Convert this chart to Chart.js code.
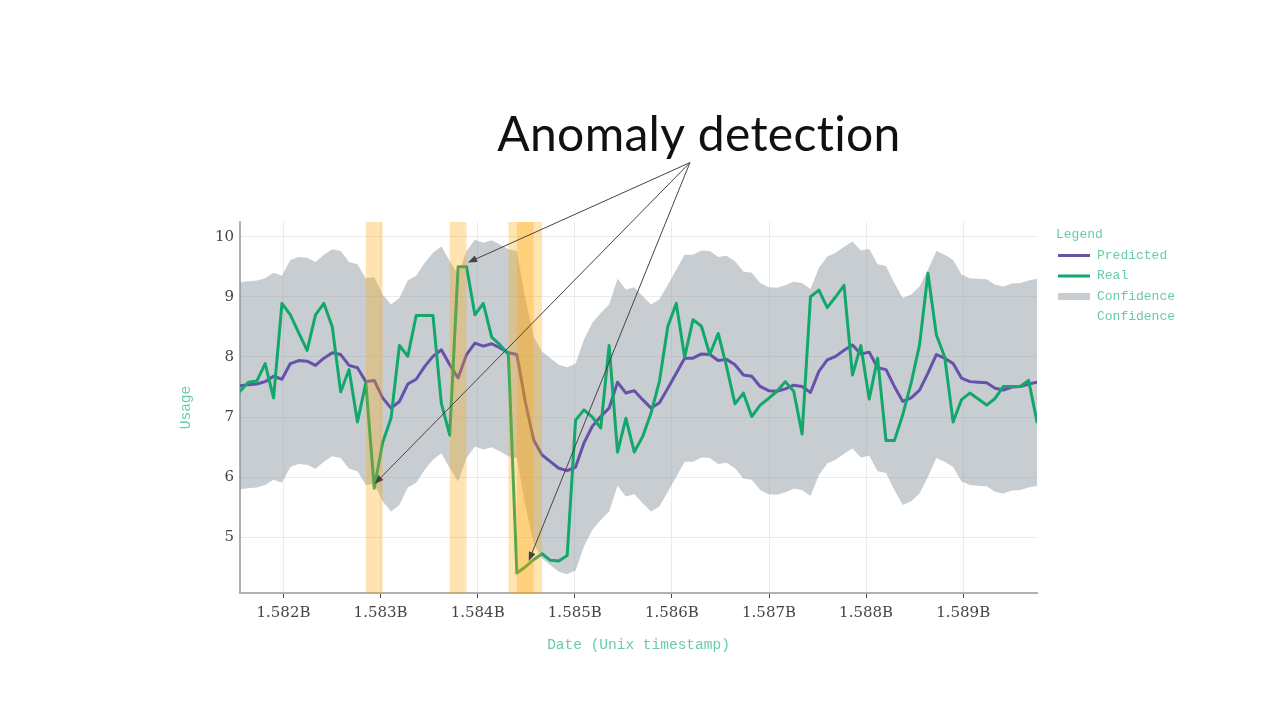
<!DOCTYPE html>
<html>
<head>
<meta charset="utf-8">
<title>Anomaly detection</title>
<script src="https://cdn.jsdelivr.net/npm/chart.js@4.4.1/dist/chart.umd.min.js"></script>
<style>
  html, body { margin: 0; padding: 0; background: #fff; }
  #chart { display: block; }
</style>
</head>
<body>
<canvas id="chart" width="1280" height="720"></canvas>
<script>
// daily timestamps (unix seconds)
const dates = [
  1581552000, 1581638400, 1581724800, 1581811200, 1581897600, 1581984000, 1582070400, 1582156800,
  1582243200, 1582329600, 1582416000, 1582502400, 1582588800, 1582675200, 1582761600, 1582848000,
  1582934400, 1583020800, 1583107200, 1583193600, 1583280000, 1583366400, 1583452800, 1583539200,
  1583625600, 1583712000, 1583798400, 1583884800, 1583971200, 1584057600, 1584144000, 1584230400,
  1584316800, 1584403200, 1584489600, 1584576000, 1584662400, 1584748800, 1584835200, 1584921600,
  1585008000, 1585094400, 1585180800, 1585267200, 1585353600, 1585440000, 1585526400, 1585612800,
  1585699200, 1585785600, 1585872000, 1585958400, 1586044800, 1586131200, 1586217600, 1586304000,
  1586390400, 1586476800, 1586563200, 1586649600, 1586736000, 1586822400, 1586908800, 1586995200,
  1587081600, 1587168000, 1587254400, 1587340800, 1587427200, 1587513600, 1587600000, 1587686400,
  1587772800, 1587859200, 1587945600, 1588032000, 1588118400, 1588204800, 1588291200, 1588377600,
  1588464000, 1588550400, 1588636800, 1588723200, 1588809600, 1588896000, 1588982400, 1589068800,
  1589155200, 1589241600, 1589328000, 1589414400, 1589500800, 1589587200, 1589673600, 1589760000
];

const predicted = [
  7.52, 7.54, 7.55, 7.59, 7.68, 7.63, 7.89, 7.94, 7.93, 7.86, 7.98, 8.07, 8.04, 7.86, 7.82, 7.59,
  7.61, 7.32, 7.15, 7.26, 7.55, 7.63, 7.84, 8.01, 8.12, 7.87, 7.65, 8.04, 8.23, 8.18, 8.22, 8.15,
  8.07, 8.04, 7.26, 6.62, 6.37, 6.26, 6.15, 6.11, 6.17, 6.57, 6.85, 7.01, 7.15, 7.58, 7.40, 7.44,
  7.29, 7.15, 7.24, 7.48, 7.73, 7.98, 7.98, 8.05, 8.04, 7.94, 7.96, 7.87, 7.70, 7.68, 7.51, 7.44,
  7.43, 7.47, 7.53, 7.51, 7.41, 7.76, 7.95, 8.01, 8.11, 8.20, 8.05, 8.08, 7.82, 7.79, 7.51, 7.26,
  7.32, 7.45, 7.73, 8.04, 7.98, 7.89, 7.65, 7.59, 7.58, 7.57, 7.48, 7.45, 7.50, 7.51, 7.55, 7.58
];

const real = [
  7.43, 7.58, 7.60, 7.89, 7.32, 8.89, 8.70, 8.40, 8.11, 8.70, 8.89, 8.50, 7.42, 7.79, 6.92, 7.57,
  5.82, 6.58, 6.98, 8.19, 8.01, 8.69, 8.69, 8.69, 7.23, 6.70, 9.50, 9.50, 8.70, 8.89, 8.33, 8.20,
  8.04, 4.41, 4.51, 4.63, 4.73, 4.62, 4.61, 4.70, 6.95, 7.12, 7.00, 6.82, 8.19, 6.42, 6.98, 6.42,
  6.68, 7.07, 7.60, 8.51, 8.89, 8.00, 8.62, 8.51, 8.04, 8.39, 7.84, 7.22, 7.40, 7.01, 7.20, 7.31,
  7.43, 7.59, 7.43, 6.72, 9.00, 9.11, 8.82, 9.00, 9.19, 7.70, 8.19, 7.30, 7.98, 6.61, 6.61, 7.04,
  7.57, 8.20, 9.39, 8.37, 8.00, 6.92, 7.29, 7.40, 7.30, 7.20, 7.31, 7.51, 7.51, 7.51, 7.61, 6.92
];

const upper = [
  9.24, 9.26, 9.27, 9.31, 9.40, 9.35, 9.61, 9.66, 9.65, 9.58, 9.70, 9.79, 9.76, 9.58, 9.54, 9.31,
  9.33, 9.04, 8.87, 8.98, 9.27, 9.35, 9.56, 9.73, 9.84, 9.59, 9.37, 9.76, 9.95, 9.90, 9.94, 9.87,
  9.79, 9.76, 8.98, 8.34, 8.09, 7.98, 7.87, 7.83, 7.89, 8.29, 8.57, 8.73, 8.87, 9.30, 9.12, 9.16,
  9.01, 8.87, 8.96, 9.20, 9.45, 9.70, 9.70, 9.77, 9.76, 9.66, 9.68, 9.59, 9.42, 9.40, 9.23, 9.16,
  9.15, 9.19, 9.25, 9.23, 9.13, 9.48, 9.67, 9.73, 9.83, 9.92, 9.77, 9.80, 9.54, 9.51, 9.23, 8.98,
  9.04, 9.17, 9.45, 9.76, 9.70, 9.61, 9.37, 9.31, 9.30, 9.29, 9.20, 9.17, 9.22, 9.23, 9.27, 9.30
];

const lower = [
  5.80, 5.82, 5.83, 5.87, 5.96, 5.91, 6.17, 6.22, 6.21, 6.14, 6.26, 6.35, 6.32, 6.14, 6.10, 5.87,
  5.89, 5.60, 5.43, 5.54, 5.83, 5.91, 6.12, 6.29, 6.40, 6.15, 5.93, 6.32, 6.51, 6.46, 6.50, 6.43,
  6.35, 6.32, 5.54, 4.90, 4.65, 4.54, 4.43, 4.39, 4.45, 4.85, 5.13, 5.29, 5.43, 5.86, 5.68, 5.72,
  5.57, 5.43, 5.52, 5.76, 6.01, 6.26, 6.26, 6.33, 6.32, 6.22, 6.24, 6.15, 5.98, 5.96, 5.79, 5.72,
  5.71, 5.75, 5.81, 5.79, 5.69, 6.04, 6.23, 6.29, 6.39, 6.48, 6.33, 6.36, 6.10, 6.07, 5.79, 5.54,
  5.60, 5.73, 6.01, 6.32, 6.26, 6.17, 5.93, 5.87, 5.86, 5.85, 5.76, 5.73, 5.78, 5.79, 5.83, 5.86
];

// days flagged as anomalies (each gets a +/- 1 day highlight)
const anomalyDates = [1582934400, 1583798400, 1584403200, 1584489600, 1584576000];

// annotation arrows: common origin under the title, one head per anomaly
const arrowOrigin = { x: 1586185600, y: 11.23 };
const arrowTargetX = [1583900000, 1582938100, 1584525800];
const arrowTargetY = [9.57, 5.89, 4.61];

const xTickValues = [1582e6, 1583e6, 1584e6, 1585e6, 1586e6, 1587e6, 1588e6, 1589e6];
const xTickLabels = ['1.582B', '1.583B', '1.584B', '1.585B', '1.586B', '1.587B', '1.588B', '1.589B'];
const yTickValues = [5, 6, 7, 8, 9, 10];
const yTickLabels = ['5', '6', '7', '8', '9', '10'];

const PURPLE = '#6652aa';
const GREEN = '#13a86b';
const BAND = 'rgba(140, 150, 160, 0.48)';
const TEAL = '#66cdaa';
const DAY = 86400;

function points(values) {
  return dates.map((d, i) => ({ x: d, y: values[i] }));
}

const anomalyBands = {
  id: 'anomalyBands',
  afterDatasetsDraw(chart) {
    const { ctx, chartArea } = chart;
    const xs = chart.scales.x;
    ctx.save();
    ctx.beginPath();
    ctx.rect(chartArea.left, chartArea.top, chartArea.width, chartArea.height);
    ctx.clip();
    ctx.fillStyle = 'rgba(255, 165, 0, 0.3)';
    anomalyDates.forEach((t) => {
      const x1 = xs.getPixelForValue(t - DAY);
      const x2 = xs.getPixelForValue(t + DAY);
      ctx.fillRect(x1, chartArea.top, x2 - x1, chartArea.height);
    });
    ctx.restore();
  }
};

function drawArrow(ctx, x1, y1, x2, y2) {
  const ang = Math.atan2(y2 - y1, x2 - x1);
  const head = 9;
  const half = 3.5;
  ctx.beginPath();
  ctx.moveTo(x1, y1);
  ctx.lineTo(x2 - Math.cos(ang) * head * 0.7, y2 - Math.sin(ang) * head * 0.7);
  ctx.stroke();
  ctx.beginPath();
  ctx.moveTo(x2, y2);
  ctx.lineTo(x2 - head * Math.cos(ang) + half * Math.sin(ang), y2 - head * Math.sin(ang) - half * Math.cos(ang));
  ctx.lineTo(x2 - head * Math.cos(ang) - half * Math.sin(ang), y2 - head * Math.sin(ang) + half * Math.cos(ang));
  ctx.closePath();
  ctx.fill();
}

const annotations = {
  id: 'annotations',
  afterDraw(chart) {
    const { ctx } = chart;
    const xs = chart.scales.x;
    const ys = chart.scales.y;
    const ox = xs.getPixelForValue(arrowOrigin.x);
    const oy = ys.getPixelForValue(arrowOrigin.y);
    ctx.save();
    ctx.strokeStyle = '#444';
    ctx.fillStyle = '#444';
    ctx.lineWidth = 1;
    arrowTargetX.forEach((tx, i) => {
      drawArrow(ctx, ox, oy, xs.getPixelForValue(tx), ys.getPixelForValue(arrowTargetY[i]));
    });

    // title (letter spacing keeps Lato from joining "ti")
    ctx.fillStyle = '#111';
    ctx.font = '400 48px Lato, "Noto Sans", sans-serif';
    ctx.letterSpacing = '0.3px';
    ctx.textRendering = 'optimizeSpeed';
    ctx.textAlign = 'center';
    ctx.textBaseline = 'alphabetic';
    ctx.fillText('Anomaly detection', 699, 151);
    ctx.restore();
  }
};

const sideLegend = {
  id: 'sideLegend',
  afterDraw(chart) {
    const { ctx, chartArea } = chart;
    const x0 = chartArea.right + 19;
    ctx.save();
    ctx.font = '13px "Liberation Mono", "DejaVu Sans Mono", monospace';
    ctx.fillStyle = TEAL;
    ctx.textAlign = 'left';
    ctx.textBaseline = 'middle';
    ctx.fillText('Legend', x0, chartArea.top + 13);
    chart.data.datasets.forEach((ds, i) => {
      const y = chartArea.top + 33.5 + i * 20.5;
      if (ds.legendWidth > 0) {
        ctx.strokeStyle = ds.legendColor;
        ctx.lineWidth = ds.legendWidth;
        ctx.beginPath();
        ctx.moveTo(x0 + 2, y);
        ctx.lineTo(x0 + 34, y);
        ctx.stroke();
      }
      ctx.fillText(ds.label, x0 + 41, y);
    });
    ctx.restore();
  }
};

const tickFont = { family: '"DejaVu Serif", serif', size: 15 };
const titleFont = { family: '"Liberation Mono", "DejaVu Sans Mono", monospace', size: 14.5 };

new Chart(document.getElementById('chart'), {
  type: 'line',
  data: {
    datasets: [
      {
        label: 'Predicted',
        data: points(predicted),
        borderColor: PURPLE,
        borderWidth: 3,
        fill: false,
        order: 1,
        legendColor: PURPLE,
        legendWidth: 3
      },
      {
        label: 'Real',
        data: points(real),
        borderColor: GREEN,
        borderWidth: 3,
        fill: false,
        order: 0,
        legendColor: GREEN,
        legendWidth: 3
      },
      {
        label: 'Confidence',
        data: points(upper),
        borderColor: 'transparent',
        borderWidth: 0,
        backgroundColor: BAND,
        fill: '+1',
        order: 2,
        legendColor: '#c8cdd2',
        legendWidth: 7
      },
      {
        label: 'Confidence',
        data: points(lower),
        borderColor: 'transparent',
        borderWidth: 0,
        fill: false,
        order: 3,
        legendColor: 'transparent',
        legendWidth: 0
      }
    ]
  },
  options: {
    responsive: false,
    animation: false,
    devicePixelRatio: 1,
    layout: { padding: { left: 173, right: 243, top: 222, bottom: 60 } },
    elements: {
      point: { radius: 0, hoverRadius: 0 },
      line: { tension: 0, borderJoinStyle: 'round', borderCapStyle: 'round' }
    },
    plugins: {
      legend: { display: false },
      tooltip: { enabled: false }
    },
    scales: {
      x: {
        type: 'linear',
        min: dates[0],
        max: dates[dates.length - 1],
        afterBuildTicks: (scale) => { scale.ticks = xTickValues.map((v) => ({ value: v })); },
        afterFit: (scale) => { scale.height = 67; },
        ticks: {
          callback: (v, i) => xTickLabels[i],
          font: tickFont,
          color: '#444',
          padding: 6,
          maxRotation: 0,
          autoSkip: false
        },
        grid: { color: '#ebebeb', tickColor: '#444', tickLength: 5, tickWidth: 1 },
        border: { color: '#b0b0b0', width: 2 },
        title: {
          display: true,
          text: 'Date (Unix timestamp)',
          color: TEAL,
          font: titleFont,
          padding: { top: 0, bottom: 6 }
        }
      },
      y: {
        type: 'linear',
        min: 4.077,
        max: 10.243,
        afterBuildTicks: (scale) => { scale.ticks = yTickValues.map((v) => ({ value: v })); },
        afterFit: (scale) => { scale.width = 67; },
        ticks: {
          callback: (v, i) => yTickLabels[i],
          font: tickFont,
          color: '#444',
          padding: 6
        },
        grid: { color: '#ebebeb', drawTicks: false },
        border: { color: '#b0b0b0', width: 2 },
        title: {
          display: true,
          text: 'Usage',
          color: TEAL,
          font: titleFont,
          padding: { top: 4, bottom: 0 }
        }
      }
    }
  },
  plugins: [anomalyBands, annotations, sideLegend]
});
</script>
</body>
</html>
